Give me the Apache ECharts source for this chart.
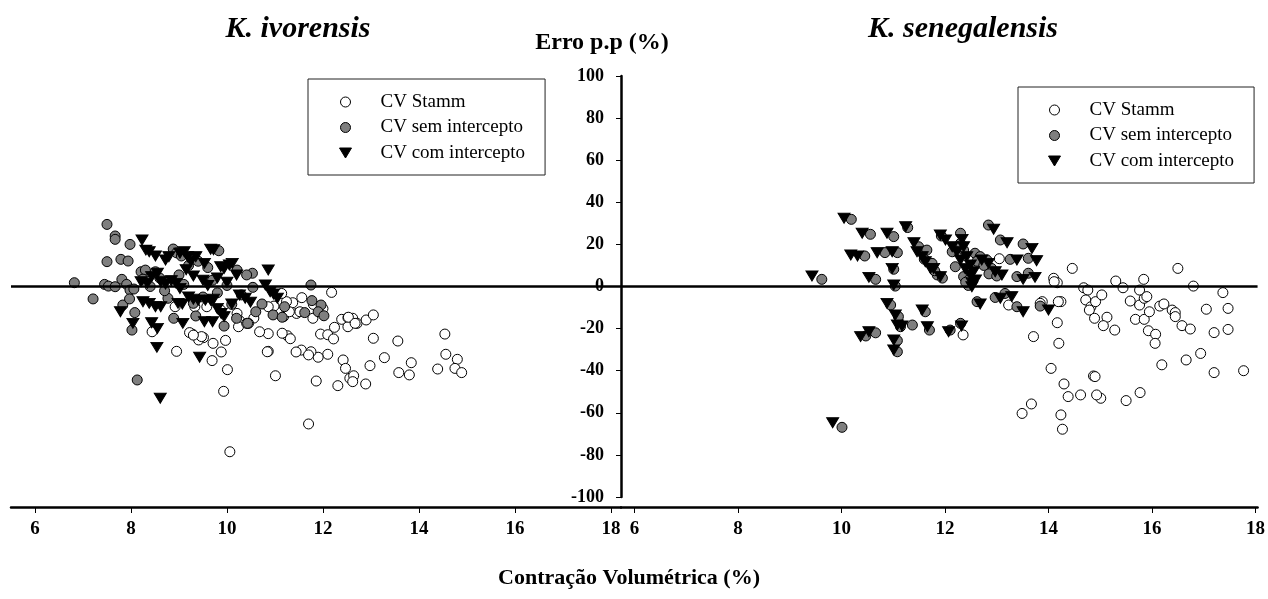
<!DOCTYPE html>
<html>
<head>
<meta charset="UTF-8">
<title>Erro p.p x Contração Volumétrica</title>
<script src="https://cdn.jsdelivr.net/npm/echarts@6.0.0/dist/echarts.min.js"></script>
<style>
  html, body { margin: 0; padding: 0; background: #fff; }
  #chart { width: 1268px; height: 599px; }
</style>
</head>
<body>
<div id="chart"></div>
<script>
// nomes das séries e ticks
var seriesNames = ['CV Stamm', 'CV sem intercepto', 'CV com intercepto'];
var xTicks = [6, 8, 10, 12, 14, 16, 18];

// K. ivorensis  [contração volumétrica (%), erro (%)]
var ivoStamm = [
  [12.18,-2.8],[11.56,-5.3],[11.37,-7.7],[11.24,-7.2],[11.14,-3.3],[10.98,-9.3],[10.86,-9.6],[11.45,-12.8],
  [11.79,-15.1],[12.24,-19.4],[12.39,-15.6],[12.52,-14.8],[12.62,-15.1],[12.71,-17.5],[12.52,-19.1],[12.9,-15.9],
  [13.05,-13.5],[11.95,-22.6],[12.1,-22.9],[12.22,-24.9],[11.26,-23.4],[11.32,-24.8],[13.05,-24.6],[13.56,-25.9],
  [14.54,-22.6],[14.56,-32.2],[14.8,-34.6],[14.75,-38.9],[14.89,-40.9],[14.39,-39.2],[13.84,-36.2],[13.58,-40.9],
  [13.8,-42.0],[13.28,-33.8],[12.98,-37.6],[12.42,-34.9],[12.47,-38.9],[12.56,-43.6],[12.64,-42.4],[12.62,-45.2],
  [12.89,-46.3],[12.31,-47.1],[12.1,-32.2],[11.9,-33.6],[11.75,-31.0],[11.55,-30.2],[11.44,-31.1],[11.86,-44.9],
  [11.01,-42.4],[10.86,-30.8],[10.86,-22.4],[10.68,-21.5],[10.56,-15.0],[10.45,-17.5],[10.26,-16.2],[10.24,-19.1],
  [10.01,-39.5],[9.93,-49.8],[9.88,-31.1],[9.97,-25.6],[9.69,-35.2],[9.71,-27.0],[9.51,-24.3],[9.41,-25.4],
  [9.28,-22.6],[9.22,-21.9],[8.95,-30.8],[8.44,-21.5],[10.06,-78.5],[11.7,-65.3],[9.33,-9.6],[9.58,-9.6],
  [10.21,-12.8],[9.87,-11.2],[11.18,-14.3],[11.3,-12.0],[11.15,-22.2],[11.52,-12.0],[12.53,-14.6],[12.67,-17.5],
  [11.7,-32.5],[10.84,-31.0],[10.41,-17.5],[9.47,-23.8],[9.3,-23.1],[8.92,-9.6],[11.8,-8.5],[12.0,-10.5]
];
var ivoSem = [
  [6.82,1.8],[7.21,-5.9],[7.5,29.5],[7.67,24.0],[7.67,22.4],[7.98,20.0],[7.5,11.8],[7.79,12.9],
  [7.94,12.1],[7.45,1.0],[7.53,0.2],[7.67,-0.1],[7.81,3.4],[7.91,1.0],[7.98,-1.7],[8.06,-1.2],
  [7.83,-8.8],[7.97,-5.9],[8.08,-12.4],[8.02,-20.7],[8.13,-44.4],[8.21,7.0],[8.3,7.8],[8.51,7.0],
  [8.88,17.8],[8.95,16.0],[9.05,14.5],[8.89,-15.1],[8.77,-5.6],[9.3,-8.0],[9.83,17.0],[9.2,10.0],
  [9.4,12.0],[9.6,9.0],[9.94,-18.8],[10.2,-15.1],[10.43,-17.5],[10.53,6.3],[10.41,5.5],[10.21,7.8],
  [10.54,-0.4],[10.73,-8.3],[10.96,-13.5],[11.15,-14.6],[11.2,-9.6],[11.75,0.7],[11.77,-6.7],[11.96,-8.8],
  [11.9,-12.0],[12.02,-13.9],[11.62,-12.4],[8.6,4.0],[8.7,-2.0],[9.0,5.5],[9.1,1.0],[9.5,-5.0],
  [9.7,3.0],[10.0,0.5],[10.3,-4.0],[10.6,-12.0],[8.4,0.0],[8.25,3.5],[9.35,-14.0],[9.8,-3.0],[10.1,-8.5]
];
var ivoCom = [
  [8.23,22.1],[8.31,17.3],[8.38,16.5],[8.51,14.5],[8.72,12.6],[8.79,14.2],[9.02,15.8],[9.11,16.5],
  [9.18,14.2],[9.25,12.0],[9.35,14.2],[9.53,11.0],[9.66,17.7],[9.72,17.5],[9.87,9.4],[9.94,8.6],
  [10.05,10.2],[10.11,11.0],[10.86,7.8],[8.21,2.3],[8.34,1.5],[8.43,4.7],[8.55,6.3],[8.62,2.3],
  [8.72,1.2],[8.84,2.8],[8.94,1.5],[9.02,-0.9],[8.25,-7.2],[8.38,-8.0],[8.51,-9.6],[8.62,-9.6],
  [8.98,-8.0],[9.07,-8.3],[7.78,-12.0],[8.04,-17.5],[8.43,-17.2],[8.55,-19.9],[9.08,-17.5],[9.53,-16.7],
  [9.7,-16.7],[8.54,-28.9],[9.43,-33.6],[8.61,-53.1],[9.2,-5.0],[9.3,-6.0],[9.4,-6.5],[9.55,-6.5],
  [9.66,-6.5],[9.72,-6.0],[9.8,-10.4],[9.88,-12.8],[9.94,-14.3],[10.26,-4.0],[10.38,-5.6],[10.49,-7.5],
  [10.1,-8.3],[10.9,-2.5],[10.97,-3.6],[11.05,-5.6],[10.8,0.7],[9.3,5.0],[9.5,3.0],[9.8,4.0],
  [10.0,2.0],[10.2,5.5],[9.15,8.0],[9.6,0.5]
];

// K. senegalensis
var senStamm = [
  [14.46,8.6],[14.1,3.9],[14.17,1.8],[14.68,-0.6],[14.76,-1.7],[14.72,-6.4],[14.82,-9.6],[14.91,-7.2],
  [15.03,-4.0],[14.79,-11.2],[14.89,-15.1],[15.13,-14.6],[15.06,-18.6],[15.28,-20.7],[15.3,2.6],[15.44,-0.6],
  [15.58,-6.9],[15.76,-8.8],[15.85,-5.6],[15.76,-1.7],[15.84,3.4],[15.9,-4.8],[15.68,-15.6],[15.85,-15.6],
  [15.95,-12.0],[16.15,-9.3],[16.23,-8.3],[16.39,-11.2],[16.45,-12.4],[16.45,-14.3],[16.5,8.6],[16.8,0.2],
  [17.37,-2.9],[17.05,-10.8],[17.47,-10.4],[16.58,-18.6],[16.74,-20.2],[17.2,-21.9],[17.47,-20.4],[15.93,-21.0],
  [16.07,-22.7],[16.06,-27.0],[16.19,-37.2],[16.66,-34.9],[16.94,-31.8],[17.2,-40.9],[17.77,-40.0],[15.77,-50.4],
  [15.5,-54.2],[15.01,-53.1],[14.93,-51.5],[14.62,-51.5],[14.38,-52.3],[14.3,-46.3],[14.87,-42.5],[14.9,-42.8],
  [14.05,-38.9],[13.71,-23.8],[14.2,-27.0],[14.17,-17.2],[14.24,-7.2],[13.88,-7.2],[13.67,-55.8],[13.49,-60.3],
  [14.24,-61.0],[14.27,-67.8],[12.35,-23.0],[13.05,13.2],[13.23,-8.8],[14.11,2.3],[13.84,-8.0],[14.19,-7.2]
];
var senSem = [
  [9.62,3.4],[10.19,31.9],[10.01,-66.9],[10.56,24.8],[11.01,23.7],[11.28,28.0],[10.45,14.5],[10.84,16.1],
  [11.08,16.1],[11.01,8.2],[10.66,3.4],[11.04,0.2],[11.49,18.9],[11.65,17.3],[11.6,13.0],[11.75,11.0],
  [11.85,5.5],[11.8,7.5],[11.95,4.0],[11.93,24.0],[12.3,25.3],[12.3,20.5],[12.36,17.3],[12.2,9.4],
  [12.14,16.5],[12.36,4.7],[12.46,3.1],[12.58,15.8],[12.68,14.2],[12.81,12.6],[12.9,8.6],[12.45,8.0],
  [12.62,12.0],[12.75,10.0],[12.85,6.0],[13.0,5.0],[12.45,0.5],[12.4,2.0],[12.84,29.2],[13.07,22.1],
  [13.51,20.2],[13.26,12.9],[13.61,13.4],[13.39,4.7],[13.61,6.3],[12.62,-7.2],[12.97,-5.2],[13.16,-3.3],
  [13.39,-9.6],[13.84,-9.3],[12.3,-17.5],[12.1,-20.7],[11.62,-12.0],[11.37,-18.3],[10.95,-8.8],[11.1,-14.3],
  [11.14,-19.1],[11.08,-25.7],[11.08,-31.0],[10.47,-23.5],[10.66,-22.0],[11.7,-20.7]
];
var senCom = [
  [9.43,5.0],[10.05,32.4],[9.83,-64.7],[10.4,25.3],[10.88,25.3],[11.24,28.4],[10.18,15.0],[10.69,16.1],
  [10.98,16.5],[10.98,8.6],[10.53,4.35],[11.01,0.7],[11.4,20.8],[11.46,16.5],[11.56,14.2],[11.62,11.8],
  [11.72,8.6],[11.78,8.6],[11.91,4.7],[11.91,24.5],[12.01,22.1],[12.14,18.9],[12.23,16.5],[12.3,12.6],
  [12.39,8.6],[12.49,5.5],[12.59,3.1],[12.33,22.4],[12.36,18.9],[12.42,14.2],[12.49,10.2],[12.55,7.0],
  [12.71,12.6],[12.84,11.0],[12.97,7.0],[13.1,5.5],[12.52,-0.1],[12.53,1.5],[12.94,27.2],[13.2,20.8],
  [13.68,18.1],[13.39,12.6],[13.77,12.3],[13.51,3.4],[13.74,4.35],[12.68,-8.3],[13.07,-5.6],[13.29,-4.8],
  [13.51,-12.0],[14.0,-11.2],[12.32,-18.8],[12.07,-21.5],[11.56,-11.2],[11.17,-18.8],[10.88,-8.0],[11.04,-13.5],
  [11.08,-18.3],[11.01,-25.4],[11.01,-30.2],[10.37,-23.8],[10.53,-21.5],[11.66,-19.1],[10.31,14.5]
];

var serif = 'Liberation Serif, Times New Roman, serif';
var triDown = 'path://M0,0 L12,0 L6,10 Z';

function xAxisCfg(grid, mn, mx) {
    return {
        gridIndex: grid, type: 'value', min: mn, max: mx, offset: 10,
        axisLine: { onZero: false, lineStyle: { color: '#000', width: 2.5 } },
        axisTick: { customValues: xTicks, length: 6, lineStyle: { color: '#000', width: 1 } },
        axisLabel: { customValues: xTicks, color: '#000', fontFamily: serif, fontWeight: 'bold', fontSize: 19, margin: 13 },
        splitLine: { show: false }
    };
}

function scatter(name, grid, data) {
    var s = {
        name: name, type: 'scatter', xAxisIndex: grid, yAxisIndex: grid, data: data,
        symbol: 'circle', symbolSize: 10,
        itemStyle: { color: '#fff', borderColor: '#000', borderWidth: 1, opacity: 1 }
    };
    if (name === seriesNames[1]) {
        s.itemStyle.color = '#7f7f7f';
    }
    if (name === seriesNames[2]) {
        s.symbol = triDown;
        s.symbolSize = [12, 10];
        s.itemStyle.color = '#000';
    }
    if (name === seriesNames[0]) {
        // linha do zero
        s.markLine = {
            silent: true, symbol: 'none', label: { show: false },
            lineStyle: { color: '#000', width: 2.5, type: 'solid' },
            data: [{ yAxis: 0 }]
        };
    }
    return s;
}

function legendCfg(left, top, pad) {
    return {
        data: [
            { name: seriesNames[0], icon: 'circle' },
            { name: seriesNames[1], icon: 'circle' },
            { name: seriesNames[2], icon: triDown }
        ],
        orient: 'vertical', left: left, top: top,
        itemWidth: 12, itemHeight: 10, itemGap: 6.5, padding: pad,
        borderColor: '#222', borderWidth: 1, selectedMode: false,
        itemStyle: { borderColor: '#000', borderWidth: 1 },
        textStyle: { fontFamily: serif, fontSize: 19, color: '#000', padding: [0, 0, 0, 24] }
    };
}

var chart = echarts.init(document.getElementById('chart'));
var option = {
    animation: false,
    backgroundColor: '#fff',
    grid: [
        { left: 11, top: 76, width: 610, height: 421 },
        { left: 621, top: 76, width: 639, height: 421 }
    ],
    xAxis: [xAxisCfg(0, 5.5, 18.21), xAxisCfg(1, 5.74, 18.04)],
    yAxis: [
        { gridIndex: 0, type: 'value', min: -100, max: 100, show: false },
        {
            gridIndex: 1, type: 'value', position: 'left', min: -100, max: 100, interval: 20,
            axisLine: { show: true, onZero: false, lineStyle: { color: '#000', width: 2.5 } },
            axisTick: { show: true, length: 5, lineStyle: { color: '#000', width: 1 } },
            axisLabel: { color: '#000', fontFamily: serif, fontWeight: 'bold', fontSize: 18, margin: 17 },
            splitLine: { show: false }
        }
    ],
    legend: [
        legendCfg(308, 79, [13.5, 20, 12.5, 31]),
        legendCfg(1018, 87, [13.5, 20, 12.5, 30])
    ],
    graphic: [
        { type: 'text', x: 298, y: 29, style: { text: 'K. ivorensis', textAlign: 'center', textVerticalAlign: 'middle', fill: '#000', font: 'italic bold 30px ' + serif } },
        { type: 'text', x: 963, y: 29, style: { text: 'K. senegalensis', textAlign: 'center', textVerticalAlign: 'middle', fill: '#000', font: 'italic bold 30px ' + serif } },
        { type: 'text', x: 602, y: 43, style: { text: 'Erro p.p (%)', textAlign: 'center', textVerticalAlign: 'middle', fill: '#000', font: 'bold 24px ' + serif } },
        { type: 'text', x: 629, y: 578, style: { text: 'Contração Volumétrica (%)', textAlign: 'center', textVerticalAlign: 'middle', fill: '#000', font: 'bold 22px ' + serif } }
    ],
    series: [
        scatter(seriesNames[0], 0, ivoStamm),
        scatter(seriesNames[1], 0, ivoSem),
        scatter(seriesNames[2], 0, ivoCom),
        scatter(seriesNames[0], 1, senStamm),
        scatter(seriesNames[1], 1, senSem),
        scatter(seriesNames[2], 1, senCom)
    ]
};
chart.setOption(option);
</script>
</body>
</html>
